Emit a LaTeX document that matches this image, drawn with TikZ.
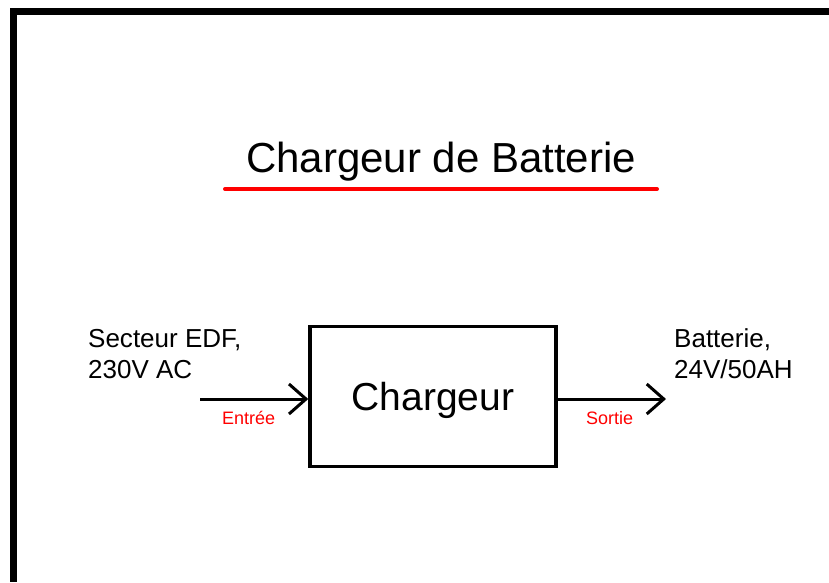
\documentclass[tikz,border=0pt]{standalone}
\usepackage{fontspec}
\setmainfont{Liberation Sans}
\usepackage{xcolor}
\usepackage{tikz}
\usetikzlibrary{arrows.meta,positioning}

\begin{document}
\begin{tikzpicture}[
  x=1pt, y=-1pt,
  box/.style={draw, line width=3.5pt, minimum width=246pt, minimum height=140pt, inner sep=0pt, text depth=0pt, font=\fontsize{39}{46}\selectfont},
  txt/.style={inner sep=0pt, align=left, anchor=base west, font=\fontsize{26}{31}\selectfont},
  lbl/.style={inner sep=0pt, anchor=base, text=red, font=\fontsize{18}{21}\selectfont},
  arr/.style={-{Straight Barb[length=17pt, width=30pt]}, line width=3pt}
]
  \useasboundingbox (0,0) rectangle (829,582);
  % cadre
  \fill (10,8) rectangle (17,582);
  \fill (10,8) rectangle (829,15);
  % titre
  \node[inner sep=0pt, anchor=base west, font=\fontsize{42}{50}\selectfont] (titre) at (246,172) {Chargeur de Batterie};
  \draw[red, line width=4pt, line cap=round] (225,189) -- (657,189);
  % blocs
  \node[box] (chargeur) at (433,396.5) {Chargeur};
  \node[txt] (secteur) at (88,378) {Secteur EDF,\\230V AC};
  \node[txt] (batterie) at (674,378) {Batterie,\\24V/50AH};
  \coordinate (entree) at (200,399);
  \coordinate (sortie) at (666,399);
  \draw[arr] (entree) -- (entree -| chargeur.west) node[lbl, pos=0.45, yshift=-25pt] {Entrée};
  \draw[arr] (chargeur.east |- sortie) -- (sortie) node[lbl, pos=0.48, yshift=-25pt] {Sortie};
\end{tikzpicture}
\end{document}
